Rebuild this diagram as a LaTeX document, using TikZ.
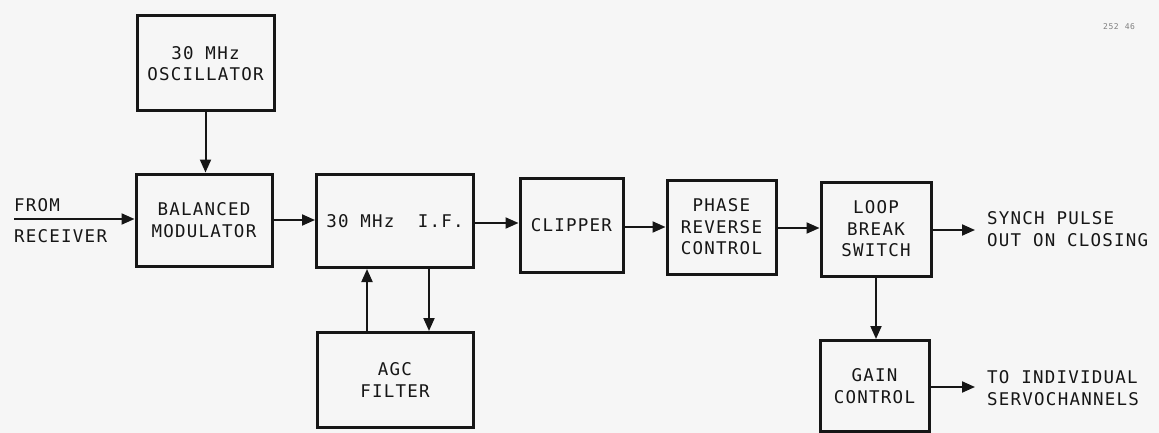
\documentclass[tikz,border=0pt]{standalone}
\usepackage{fontspec}
\newfontfamily\lbl[LetterSpace=7]{DejaVu Sans Mono}
\usetikzlibrary{arrows.meta}
\definecolor{paper}{RGB}{246,246,246}
\definecolor{ink}{RGB}{22,22,22}
\tikzset{
  blk/.style={draw=ink, line width=3pt, inner sep=0pt, align=center,
    text=ink, font=\fontsize{17.5}{21.5}\selectfont\lbl},
  lab/.style={inner sep=0pt, align=left, text=ink, anchor=west,
    font=\fontsize{17.5}{21.5}\selectfont\lbl},
  arr/.style={draw=ink, line width=2pt, -{Triangle[length=13pt,width=11pt]}}
}
\begin{document}
\begin{tikzpicture}[x=1pt,y=-1pt]
\fill[paper] (0,0) rectangle (1159,433);
\useasboundingbox (0,0) rectangle (1159,433);

\node[blk, minimum width=137pt, minimum height=95pt] (osc) at (205.5,63.5) {30 MHz\\OSCILLATOR};
\node[blk, minimum width=136pt, minimum height=92pt] (mod) at (204,220) {BALANCED\\MODULATOR};
\node[blk, minimum width=157pt, minimum height=93pt] (iff) at (395,221) {30~MHz~~I.F.};
\node[blk, minimum width=156pt, minimum height=95pt] (agc) at (395,380) {AGC\\FILTER};
\node[blk, minimum width=103pt, minimum height=94pt] (clip) at (571.5,225) {CLIPPER};
\node[blk, minimum width=109pt, minimum height=94pt] (phase) at (721.5,227) {PHASE\\REVERSE\\CONTROL};
\node[blk, minimum width=110pt, minimum height=94pt] (loop) at (876,229) {LOOP\\BREAK\\SWITCH};
\node[blk, minimum width=109pt, minimum height=91pt] (gain) at (874.5,386) {GAIN\\CONTROL};

\node[lab] (from) at (14,205) {FROM};
\node[lab] (recv) at (14,236) {RECEIVER};
\coordinate (in) at (14,219);
\node[lab] (synch) at (987,229) {SYNCH PULSE\\OUT ON CLOSING};
\coordinate (synchend) at (975,230);
\node[lab] (servo) at (987,388) {TO INDIVIDUAL\\SERVOCHANNELS};
\coordinate (servoend) at (975,387);
\node[inner sep=0pt, text=ink!55, anchor=west, font=\fontsize{8}{9}\selectfont\lbl] (num) at (1103,27) {252\hspace{6pt}46};

\coordinate (ifo) at ([yshift=-2pt]iff.east);
\coordinate (clo) at ([yshift=-2pt]clip.east);
\coordinate (pho) at ([yshift=-1pt]phase.east);
\coordinate (loo) at ([yshift=-1pt]loop.east);
\coordinate (up) at (367,0);
\coordinate (dn) at (429,0);

\draw[arr] (in) -- (mod.west |- in);
\draw[arr] (osc.south) -- (mod.north -| osc.south);
\draw[arr] (mod.east) -- (iff.west |- mod.east);
\draw[arr] (ifo) -- (clip.west |- ifo);
\draw[arr] (clo) -- (phase.west |- clo);
\draw[arr] (pho) -- (loop.west |- pho);
\draw[arr] (loo) -- (synchend);
\draw[arr] (gain.east |- servoend) -- (servoend);
\draw[arr] (loop.south) -- (gain.north -| loop.south);
\draw[arr] (agc.north -| up) -- (iff.south -| up);
\draw[arr] (iff.south -| dn) -- (agc.north -| dn);
\end{tikzpicture}
\end{document}
